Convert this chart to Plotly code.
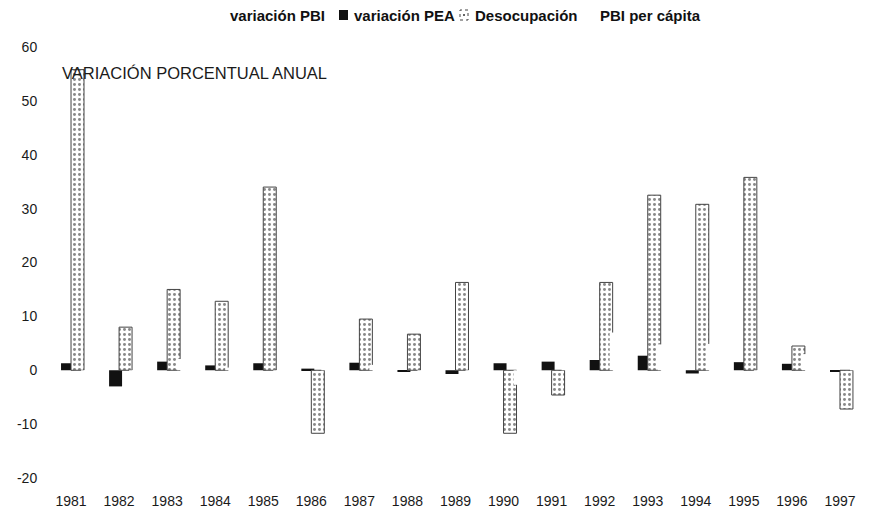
import plotly.graph_objects as go

# Años del período
anios = [str(a) for a in range(1981, 1998)]

# Variaciones porcentuales anuales
var_pbi = [-5.7, -3.1, 3.7, 2.0, -7.0, 7.1, 2.5, -2.0, -7.0, -1.3, 10.5, 10.3, 6.3, 5.8, -2.8, 5.5, 8.1]
var_pea = [1.3, -3.0, 1.6, 0.9, 1.3, 0.3, 1.4, -0.3, -0.7, 1.3, 1.6, 1.9, 2.7, -0.6, 1.5, 1.2, -0.3]
desocupacion = [55.8, 8.0, 15.0, 12.8, 34.0, -11.7, 9.5, 6.7, 16.3, -11.7, -4.6, 16.3, 32.5, 30.8, 35.8, 4.5, -7.2]
pbi_per_capita = [-7.2, -4.6, 2.1, 0.5, -8.4, 5.6, 1.0, -3.4, -8.4, -2.7, 9.0, 7.0, 4.8, 4.9, -4.1, 3.0, 6.8]

# Series y rótulos de la leyenda
series = ["variación PBI", "variación PEA", "Desocupación", "PBI per cápita"]

# Marcas del eje vertical
y_ticks = [-20, -10, 0, 10, 20, 30, 40, 50, 60]
y_ticktext = ["-20", "-10", "0", "10", "20", "30", "40", "50", "60"]

ANCHO = 0.27
FUENTE = "Liberation Sans, Arial, Helvetica, sans-serif"

# Geometría del área de trazado (px)
ML, MR, MT, MB = 47, 20, 47, 35
W, H = 884, 513
PW, PH = W - ML - MR, H - MT - MB


def px_x(px):
    return (px - ML) / PW


def px_y(py):
    return 1 + (MT - py) / PH


fig = go.Figure()

fig.add_trace(go.Bar(
    x=anios, y=var_pbi, name=series[0],
    width=ANCHO, offset=-0.417, showlegend=False,
    marker=dict(color="white", line=dict(width=0)),
))
fig.add_trace(go.Bar(
    x=anios, y=var_pea, name=series[1],
    width=ANCHO, offset=-0.208, showlegend=False,
    marker=dict(color="#111111", line=dict(width=0)),
))
fig.add_trace(go.Bar(
    x=anios, y=desocupacion, name=series[2],
    width=ANCHO, offset=0.0, showlegend=False,
    marker=dict(
        color="white",
        line=dict(color="#444444", width=1),
        pattern=dict(shape=".", fgcolor="#111111", bgcolor="white", size=5, solidity=0.28),
    ),
))
fig.add_trace(go.Bar(
    x=anios, y=pbi_per_capita, name=series[3],
    width=ANCHO, offset=0.208, showlegend=False,
    marker=dict(color="white", line=dict(width=0)),
))

# Leyenda superior: rótulos en negrita y símbolos
LEY_Y = 15
rotulos_x = [228, 352, 473, 598]
for texto, xl in zip(series, rotulos_x):
    fig.add_annotation(
        text="<b>%s</b>" % texto, xref="paper", yref="paper",
        x=px_x(xl), y=px_y(LEY_Y), xanchor="left", yanchor="middle",
        showarrow=False, font=dict(family=FUENTE, size=15, color="#111111"),
    )

# símbolo de variación PEA: cuadrado negro
fig.add_shape(type="rect", xref="paper", yref="paper",
              x0=px_x(339), x1=px_x(348), y0=px_y(LEY_Y + 5), y1=px_y(LEY_Y - 5),
              fillcolor="#111111", line=dict(width=0))
# símbolo de Desocupación: recuadro punteado con un punto central
fig.add_shape(type="rect", xref="paper", yref="paper",
              x0=px_x(460), x1=px_x(468), y0=px_y(LEY_Y + 5), y1=px_y(LEY_Y - 5),
              fillcolor="white", line=dict(color="#444444", width=1, dash="dot"))
fig.add_shape(type="circle", xref="paper", yref="paper",
              x0=px_x(463), x1=px_x(465), y0=px_y(LEY_Y + 1), y1=px_y(LEY_Y - 1),
              fillcolor="#333333", line=dict(width=0))

fig.add_annotation(
    text="VARIACIÓN PORCENTUAL ANUAL",
    xref="paper", yref="y", x=px_x(60), y=55.2,
    xanchor="left", yanchor="middle", showarrow=False,
    font=dict(family=FUENTE, size=16.5, color="#1a1a1a"),
)

fig.update_layout(
    width=W, height=H,
    margin=dict(l=ML, r=MR, t=MT, b=MB, autoexpand=False),
    paper_bgcolor="white", plot_bgcolor="white",
    barmode="overlay",
    font=dict(family=FUENTE, size=14, color="#1a1a1a"),
    showlegend=False,
    xaxis=dict(
        type="category", range=[-0.5, 16.5], showgrid=False, showline=False, zeroline=False,
        ticks="outside", ticklen=10, tickcolor="rgba(0,0,0,0)",
        tickfont=dict(family=FUENTE, size=14, color="#1a1a1a"),
    ),
    yaxis=dict(
        range=[-20, 60], tickvals=y_ticks, ticktext=y_ticktext,
        showgrid=False, showline=False, zeroline=False,
        ticks="outside", ticklen=6, tickcolor="rgba(0,0,0,0)",
        tickfont=dict(family=FUENTE, size=14, color="#1a1a1a"),
    ),
)

fig.write_html("out.html")
